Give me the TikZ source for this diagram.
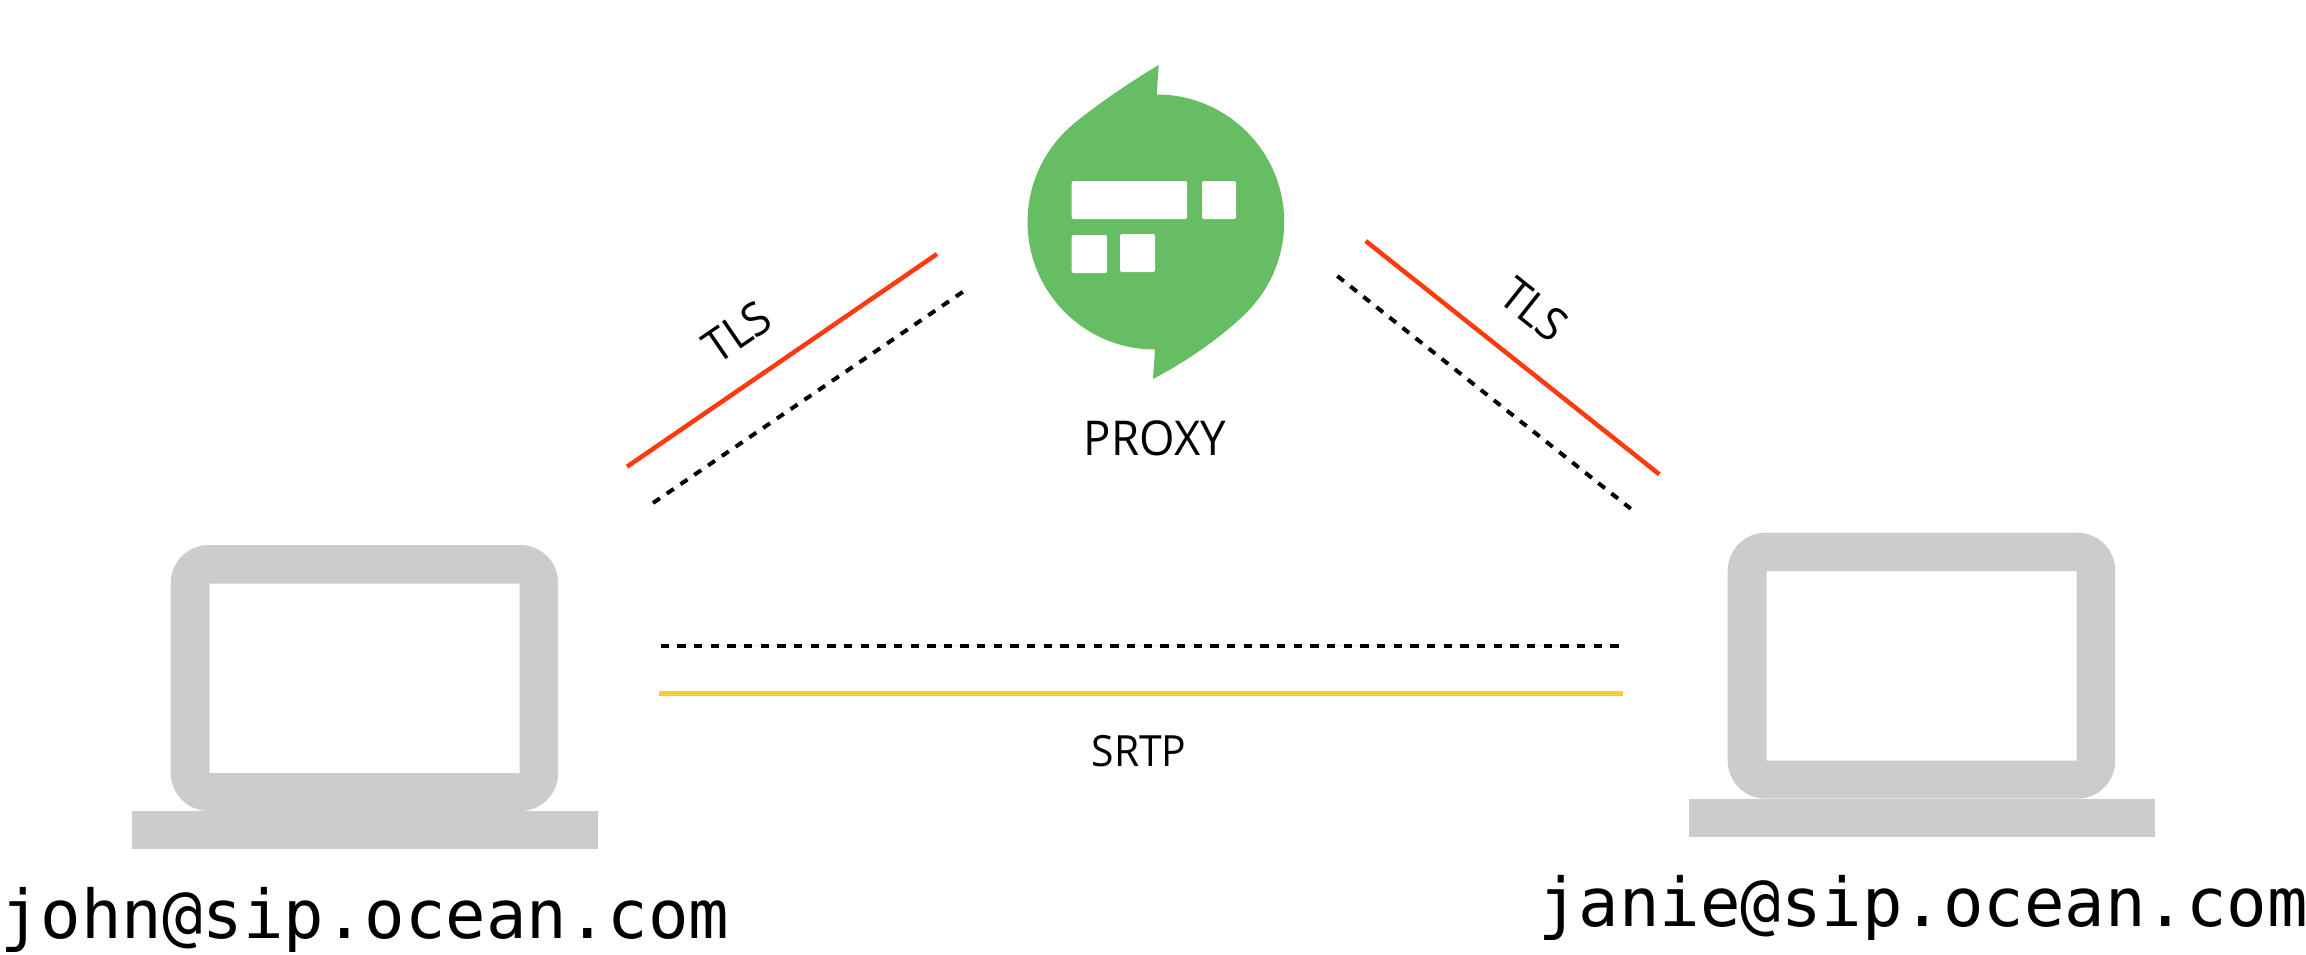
\documentclass[tikz,border=0pt]{standalone}
\usepackage{fontspec}
\setmainfont[FakeStretch=0.95]{Open Sans}
\newfontfamily\monofam{DejaVu Sans Mono}
\definecolor{lapgray}{HTML}{CCCCCC}
\definecolor{proxygreen}{HTML}{66BD63}
\definecolor{tlsred}{HTML}{FF3A0E}
\definecolor{srtpyellow}{HTML}{FFCB2E}
\definecolor{hair}{HTML}{EEEEEE}
\tikzset{
  lab/.style={inner sep=0pt,outer sep=0pt,font=\fontsize{#1}{#1}\selectfont,text=black},
  addr/.style={inner sep=0pt,outer sep=0pt,anchor=base west,font=\monofam\fontsize{67.3}{70}\selectfont,text=black},
  tlsline/.style={draw=tlsred,line width=4.5pt},
  srtpline/.style={draw=srtpyellow,line width=4.8pt},
  sigdash/.style={draw=black,line width=4pt,dash pattern=on 8.33pt off 8.33pt},
  sighair/.style={draw=hair,line width=1pt},
  winbtn/.style={fill=white,rounded corners=2pt}
}
\newcommand{\laptopshape}[2]{%
  \begin{scope}[shift={(#1,#2)}]
    \fill[lapgray,even odd rule,rounded corners=38pt] (0,0) rectangle (387.5,266)
      [sharp corners] (39,38.5) rectangle (349,228);
    \fill[lapgray] (-38.7,266) rectangle (427,304.4);
  \end{scope}}
\begin{document}
\begin{tikzpicture}[x=1pt,y=1pt,yscale=-1]
\useasboundingbox (0,0) rectangle (2306,954);
% laptops
\laptopshape{170.7}{545}
\laptopshape{1727.7}{532.7}
% proxy
\fill[proxygreen] (1156.7,94.5) arc[start angle=-90,end angle=44,radius=127.5]
  .. controls (1241,318.5) and (1208,350) .. (1153,379)
  -- (1155,349.5) arc[start angle=90,end angle=230,radius=127.5]
  .. controls (1095,106) and (1130,82) .. (1158.7,65) -- cycle;
\fill[winbtn] (1071.7,181) rectangle (1187,219);
\fill[winbtn] (1202,181) rectangle (1236,219);
\fill[winbtn] (1071.7,235) rectangle (1107,273);
\fill[winbtn] (1120,234) rectangle (1155,272);
% coordinates
\coordinate (ra) at (627,466.7);
\coordinate (rb) at (937,254);
\coordinate (da) at (653,503);
\coordinate (db) at (963,291.7);
\coordinate (rc) at (1365.7,241);
\coordinate (rd) at (1659.3,474.3);
\coordinate (dc) at (1337.3,276);
\coordinate (dd) at (1630.7,508.7);
\coordinate (ma) at (660.6,645.7);
\coordinate (mb) at (1619,645.7);
\coordinate (ya) at (659,693.3);
\coordinate (yb) at (1623,693.3);
% connectors
\draw[sighair] (da) -- (db);
\draw[sighair] (dc) -- (dd);
\draw[sighair] (ma) -- (mb);
\draw[tlsline] (ra) -- (rb);
\draw[tlsline] (rc) -- (rd);
\draw[sigdash] (da) -- (db);
\draw[sigdash] (dc) -- (dd);
\draw[sigdash] (ma) -- (mb);
\draw[srtpline] (ya) -- (yb);
% labels
\node[lab=46,rotate=34.5] (tlsl) at (737,332) {TLS};
\node[lab=46,rotate=-38.5] (tlsr) at (1534,310) {TLS};
\node[lab=48,anchor=base] (proxy) at (1155,455.7) {PROXY};
\node[lab=43,anchor=base] (srtp) at (1139,766.7) {SRTP};
\node[addr] (john) at (0,938) {john@sip.ocean.com};
\node[addr] (janie) at (1538,926) {janie@sip.ocean.com};
\end{tikzpicture}
\end{document}
